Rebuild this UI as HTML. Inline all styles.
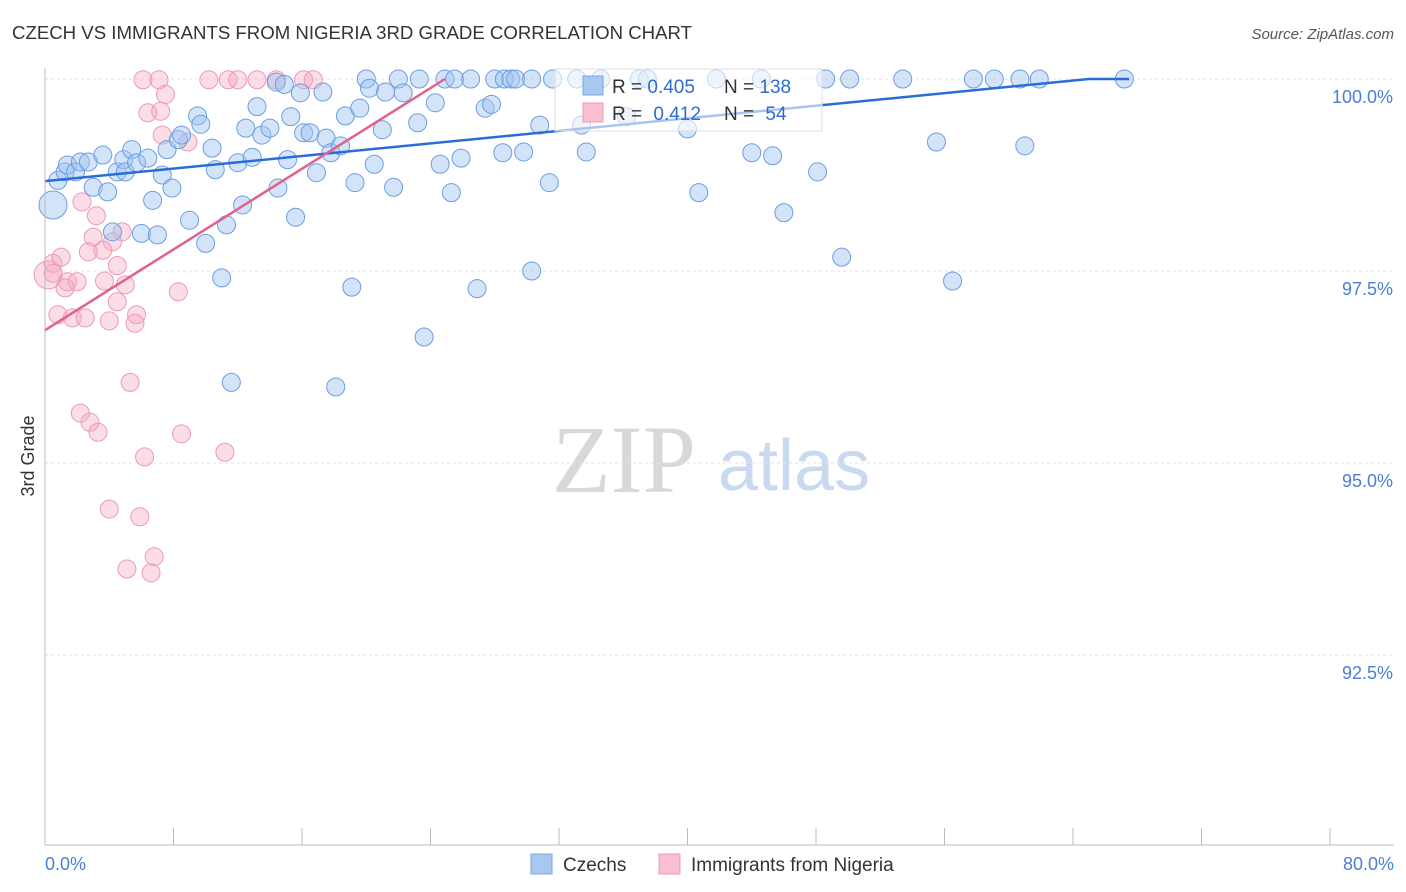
<!DOCTYPE html>
<html><head><meta charset="utf-8"><style>
body{margin:0;background:#fff;font-family:"Liberation Sans",sans-serif;}
svg{display:block}
</style></head><body>
<svg id="chart" width="1406" height="892">
<text x="12" y="39" font-size="18" fill="#333" textLength="680" lengthAdjust="spacingAndGlyphs">CZECH VS IMMIGRANTS FROM NIGERIA 3RD GRADE CORRELATION CHART</text>
<text x="1394" y="39" font-size="15" fill="#555" font-style="italic" text-anchor="end">Source: ZipAtlas.com</text>
<text x="34" y="456" font-size="18" fill="#333" text-anchor="middle" transform="rotate(-90 34 456)">3rd Grade</text>
<text x="552" y="492" font-size="96" fill="#d8d8d8" font-family="Liberation Serif,serif">ZIP</text>
<text x="718" y="490" font-size="72" fill="#c9d9f0">atlas</text>
<g id="grid"></g><g id="pts"></g><g id="lines"></g>
<line x1="45" y1="68" x2="45" y2="845" stroke="#bbb"/>
<line x1="45" y1="845" x2="1394" y2="845" stroke="#bbb"/>
<text x="45" y="870" font-size="18" fill="#4a7fd6">0.0%</text>
<text x="1394" y="870" font-size="18" fill="#4a7fd6" text-anchor="end">80.0%</text>
<g>
<rect x="555" y="69" width="267" height="62" fill="#fff" fill-opacity="0.6" stroke="#ddd"/>
<rect x="583" y="76" width="20" height="19" fill="#a8c8f0" stroke="#7aa6e0"/>
<rect x="583" y="103" width="20" height="19" fill="#f8bfd0" stroke="#ee9ab5"/>
<text x="612" y="93" font-size="19" fill="#333">R = <tspan fill="#2f6bd0">0.405</tspan><tspan x="724">N = </tspan><tspan fill="#2f6bd0">138</tspan></text>
<text x="612" y="120" font-size="19" fill="#333">R = <tspan fill="#2f6bd0" dx="6">0.412</tspan><tspan x="724">N = </tspan><tspan fill="#2f6bd0" dx="6">54</tspan></text>
</g>
<g>
<rect x="531" y="854" width="21" height="20" fill="#a8c8f0" stroke="#7aa6e0"/>
<text x="563" y="871" font-size="19" fill="#333">Czechs</text>
<rect x="659" y="854" width="21" height="20" fill="#f8bfd0" stroke="#ee9ab5"/>
<text x="691" y="871" font-size="19" fill="#333">Immigrants from Nigeria</text>
</g>
</svg>
<script>
const yTicks=[100,97.5,95,92.5];
const yTickLabels=["100.0%","97.5%","95.0%","92.5%"];
const xTicks=[0,8,16,24,32,40,48,56,64,72,80];
const czX=[0.5,0.8,1.25,1.4,1.9,2.2,2.7,3.0,3.6,3.9,4.2,4.5,4.9,5.0,5.4,5.7,6.0,6.4,6.7,7.0,7.3,7.6,7.9,8.3,8.5,9.0,9.5,9.7,10.0,10.4,10.6,11.0,11.3,11.6,12.0,12.3,12.5,12.9,13.2,13.5,14.0,14.4,14.5,14.9,15.1,15.3,15.6,15.9,16.1,16.5,16.9,17.3,17.5,17.8,18.1,18.4,18.7,19.1,19.3,19.6,20.0,20.2,20.5,21.0,21.2,21.7,22.0,22.3,23.2,23.3,23.6,24.3,24.6,24.9,25.3,25.5,25.9,26.5,26.9,27.4,27.8,28.0,28.5,28.6,29.0,29.3,29.8,30.3,30.3,30.8,31.4,31.6,33.1,33.4,33.7,34.6,36.2,37.0,37.5,40.0,40.7,41.8,44.0,44.6,45.3,46.0,48.1,48.6,49.6,50.1,53.4,55.5,56.5,57.8,59.1,60.7,61.0,61.9,67.2];
const czY=[98.36,98.68,98.79,98.88,98.79,98.92,98.92,98.59,99.01,98.53,98.01,98.79,98.95,98.79,99.08,98.91,97.99,98.97,98.42,97.97,98.75,99.08,98.58,99.21,99.27,98.16,99.52,99.41,97.86,99.10,98.82,97.41,98.10,96.05,98.91,98.36,99.36,98.98,99.64,99.27,99.36,99.96,98.58,99.93,98.95,99.51,98.20,99.82,99.30,99.30,98.78,99.83,99.23,99.04,95.99,99.13,99.52,97.29,98.65,99.62,100,99.88,98.89,99.34,99.83,98.59,100,99.82,99.43,100,96.64,99.69,98.89,100,98.52,100,98.97,100,97.27,99.62,99.67,100,99.04,100,100,100,99.05,100,97.50,99.40,98.65,100,100,99.40,99.05,100,99.51,100,100,99.35,98.52,100,99.04,100,99.00,98.26,98.79,100,97.68,100,100,99.18,97.37,100,100,100,99.13,100,100];
const czR=[14];
const ngX=[0.2,0.5,6.1,7.1,7.5,6.4,7.2,7.3,8.9,10.2,11.4,12.0,13.2,14.4,16.1,16.7,2.3,3.2,4.8,3.0,4.2,2.7,3.6,1.0,4.5,0.5,1.4,2.0,3.7,5.0,1.25,8.3,4.5,5.7,0.8,1.7,2.5,4.0,5.6,5.3,2.2,2.8,3.3,8.5,6.2,11.2,4.0,5.9,6.8,5.1,6.6];
const ngY=[97.45,97.60,99.99,99.99,99.80,99.56,99.58,99.27,99.18,99.99,99.99,99.99,99.99,99.99,99.99,99.99,98.40,98.22,98.01,97.94,97.88,97.75,97.77,97.68,97.57,97.47,97.36,97.36,97.37,97.32,97.28,97.23,97.10,96.93,96.93,96.89,96.89,96.85,96.82,96.05,95.65,95.53,95.40,95.38,95.08,95.14,94.40,94.30,93.78,93.62,93.57];
const czLineX=[0,65,67.5];
const czLineY=[98.67,100,100];
const ngLineX=[0,24.9];
const ngLineY=[96.73,100];
const NS="http://www.w3.org/2000/svg";
const sx=v=>45+v*(1330-45)/80;
const sy=v=>79+(100-v)*76.8;
function mk(t,a,p){const e=document.createElementNS(NS,t);for(const k in a)e.setAttribute(k,a[k]);p.appendChild(e);return e;}
const grid=document.getElementById('grid');
yTicks.forEach((t,i)=>{
 const l=mk('line',{x1:45,x2:1394,y1:sy(t),y2:sy(t),stroke:'#e2e2e2','stroke-dasharray':'3,3'},grid);
 
 
 const tx=mk('text',{x:1393,y:sy(t)+24,'font-size':18,fill:'#4a7fd6','text-anchor':'end'},grid);
 tx.textContent=yTickLabels[i];
 
 
});
xTicks.forEach(t=>{
 const l=mk('line',{x1:sx(t),x2:sx(t),y1:828,y2:845,stroke:'#bbb'},grid);
 
 
});
const pts=document.getElementById('pts');
ngX.forEach((x,i)=>{
 const c=mk('circle',{cx:sx(x),cy:sy(ngY[i]),r:i==0?14:9,fill:'rgba(246,170,196,0.4)',stroke:'#ec9ab6','stroke-width':1},pts);
 
 
});
czX.forEach((x,i)=>{
 const c=mk('circle',{cx:sx(x),cy:sy(czY[i]),r:i==0?czR[0]:9,fill:'rgba(160,196,240,0.45)',stroke:'#6b9ee2','stroke-width':1},pts);
 
 
});
const lines=document.getElementById('lines');
const p1=mk('polyline',{points:czLineX.map((x,i)=>sx(x)+','+sy(czLineY[i])).join(' '),fill:'none',stroke:'#2a6dd6','stroke-width':2.5},lines);


const p2=mk('polyline',{points:ngLineX.map((x,i)=>sx(x)+','+sy(ngLineY[i])).join(' '),fill:'none',stroke:'#e0628c','stroke-width':2.5},lines);


</script>
</body></html>
